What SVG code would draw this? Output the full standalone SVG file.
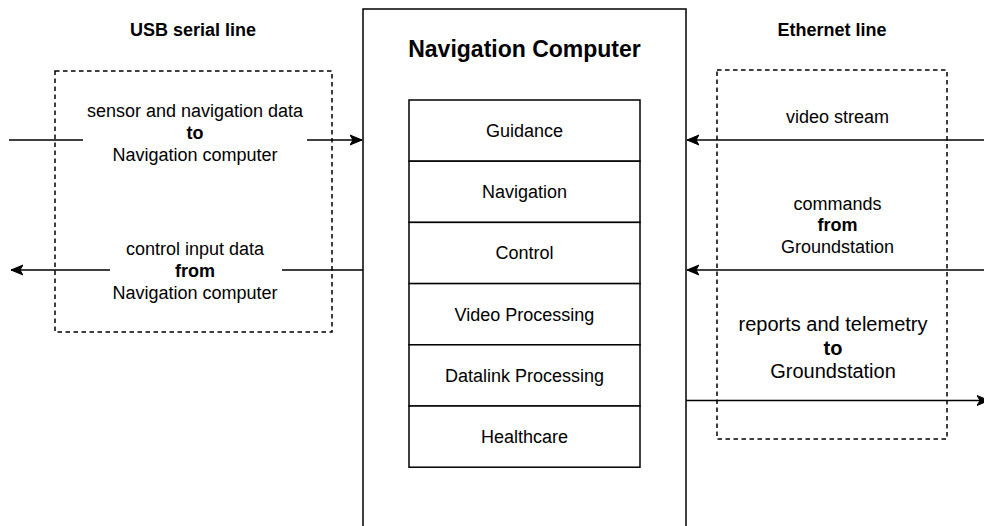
<svg xmlns="http://www.w3.org/2000/svg" width="984" height="526" viewBox="0 0 984 526">
  <style>
    text { font-family: "Liberation Sans", Arial, sans-serif; fill: #000; text-anchor: middle; }
    .t18 { font-size: 18px; }
    .t20 { font-size: 20px; }
    .b { font-weight: bold; }
    .box { fill: #fff; stroke: #000; stroke-width: 1.5; }
    .dash { fill: none; stroke: #000; stroke-width: 1.5; stroke-dasharray: 4.5 3.5; }
    .edge { fill: none; stroke: #000; stroke-width: 1.5; marker-end: url(#arrow); }
  </style>
  <defs>
    <marker id="arrow" markerUnits="userSpaceOnUse" viewBox="0 -6 13 12" markerWidth="13" markerHeight="12" refX="12" refY="0" orient="auto">
      <path d="M0,-5 L12,0 L0,5 L3,0 Z" fill="#000" stroke="#000" stroke-width="1" stroke-linejoin="miter"/>
    </marker>
  </defs>

  <rect width="984" height="526" fill="#fff"/>

  <!-- Section headings -->
  <text class="t18 b" x="193" y="36">USB serial line</text>
  <text class="t18 b" x="832" y="36">Ethernet line</text>

  <!-- Link groupings -->
  <rect id="usb-group" class="dash" x="55" y="71" width="277" height="261"/>
  <rect id="eth-group" class="dash" x="717" y="70" width="230" height="369"/>

  <!-- Navigation computer with its modules -->
  <g id="nav-computer">
    <rect class="box" x="363" y="9" width="323" height="530"/>
    <text class="b" x="524.5" y="57" style="font-size:23px">Navigation Computer</text>
  </g>
  <g id="guidance">
    <rect class="box" x="409" y="100" width="231" height="61.2"/>
    <text class="t18" x="524.5" y="137">Guidance</text>
  </g>
  <g id="navigation">
    <rect class="box" x="409" y="161.2" width="231" height="61.2"/>
    <text class="t18" x="524.5" y="198.2">Navigation</text>
  </g>
  <g id="control">
    <rect class="box" x="409" y="222.4" width="231" height="61.2"/>
    <text class="t18" x="524.5" y="259.4">Control</text>
  </g>
  <g id="video-processing">
    <rect class="box" x="409" y="283.6" width="231" height="61.2"/>
    <text class="t18" x="524.5" y="320.6">Video Processing</text>
  </g>
  <g id="datalink-processing">
    <rect class="box" x="409" y="344.8" width="231" height="61.2"/>
    <text class="t18" x="524.5" y="381.8">Datalink Processing</text>
  </g>
  <g id="healthcare">
    <rect class="box" x="409" y="406" width="231" height="61.2"/>
    <text class="t18" x="524.5" y="443">Healthcare</text>
  </g>

  <!-- Data links -->
  <g id="connectors">
    <path class="edge" d="M9,140 H83 M307,140 H362"/>
    <path class="edge" d="M363,270 H282 M110,270 H11"/>
    <path class="edge" d="M984,140 H687"/>
    <path class="edge" d="M984,270 H687"/>
    <path class="edge" d="M686,400.5 H989"/>
  </g>

  <!-- Link labels -->
  <g id="labels">
    <text class="t18" x="195" y="117">sensor and navigation data</text>
    <text class="t18 b" x="195" y="139">to</text>
    <text class="t18" x="195" y="161">Navigation computer</text>

    <text class="t18" x="195" y="255">control input data</text>
    <text class="t18 b" x="195" y="277">from</text>
    <text class="t18" x="195" y="299">Navigation computer</text>

    <text class="t18" x="837.5" y="123">video stream</text>

    <text class="t18" x="837.5" y="210">commands</text>
    <text class="t18 b" x="837.5" y="231">from</text>
    <text class="t18" x="837.5" y="253">Groundstation</text>

    <text class="t20" x="833" y="331">reports and telemetry</text>
    <text class="t20 b" x="833" y="355">to</text>
    <text class="t20" x="833" y="378">Groundstation</text>
  </g>
</svg>
